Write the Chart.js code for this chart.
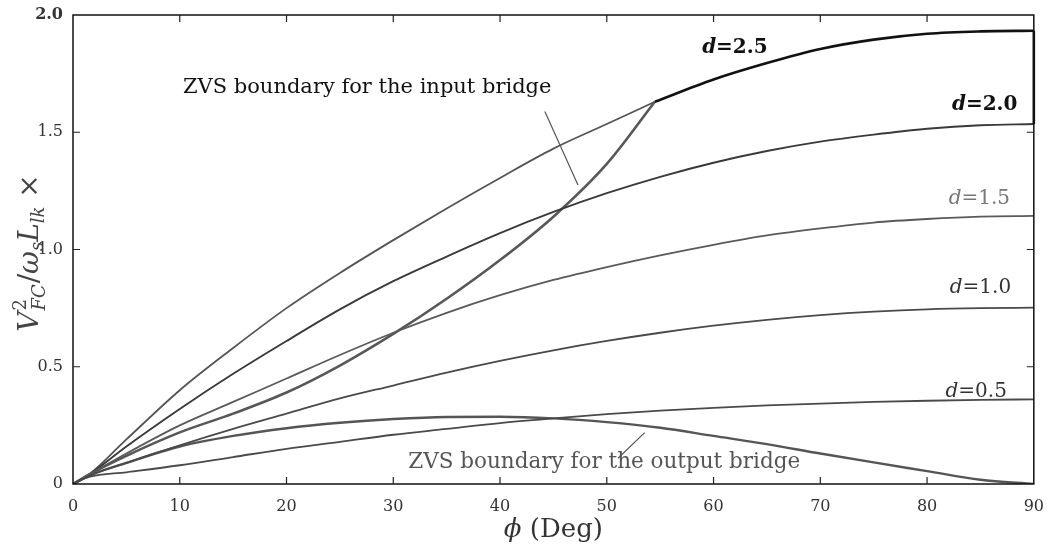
<!DOCTYPE html>
<html>
<head>
<meta charset="utf-8">
<script src="https://cdn.jsdelivr.net/npm/chart.js@4.4.0/dist/chart.umd.min.js"></script>
<style>
  html, body { margin: 0; padding: 0; background: #fff; }
  #wrap { width: 1049px; height: 551px; }
</style>
</head>
<body>
<div id="wrap"><canvas id="chart" width="1049" height="551"></canvas></div>
<script>
// === DATA ===
const phi = [0, 1.5, 5, 10, 15, 20, 25, 30, 35, 40, 45, 50, 55, 60, 65, 70, 75, 80, 85, 90];
const d05 = [0, 0.03, 0.05, 0.08, 0.115, 0.15, 0.18, 0.21, 0.235, 0.26, 0.28, 0.298, 0.313, 0.325, 0.335, 0.343, 0.35, 0.355, 0.359, 0.361];
const d10 = [0, 0.035, 0.09, 0.165, 0.235, 0.30, 0.365, 0.42, 0.475, 0.525, 0.57, 0.61, 0.645, 0.675, 0.70, 0.72, 0.735, 0.745, 0.75, 0.752];
const d15 = [0, 0.04, 0.13, 0.25, 0.35, 0.45, 0.55, 0.645, 0.73, 0.805, 0.87, 0.925, 0.975, 1.02, 1.06, 1.09, 1.115, 1.13, 1.14, 1.143];
const d20 = [0, 0.04, 0.16, 0.32, 0.47, 0.61, 0.745, 0.865, 0.97, 1.07, 1.16, 1.24, 1.31, 1.37, 1.42, 1.46, 1.49, 1.515, 1.53, 1.535];
const zvsOut = [0, 0.035, 0.09, 0.16, 0.205, 0.238, 0.261, 0.277, 0.286, 0.287, 0.28, 0.264, 0.24, 0.205, 0.17, 0.13, 0.092, 0.055, 0.018, 0];

// d=2.5 is split where the input-bridge boundary meets it
const phi25 = [0, 1.5, 5, 10, 15, 20, 25, 30, 35, 40, 45, 50, 54.5, 60, 65, 70, 75, 80, 85, 90];
const d25 = [0, 0.04, 0.19, 0.40, 0.58, 0.75, 0.90, 1.04, 1.175, 1.305, 1.43, 1.535, 1.63, 1.725, 1.795, 1.855, 1.895, 1.92, 1.93, 1.933];
const meetPhi = 54.5;

const phiIn = [0, 1.5, 5, 10, 15, 20, 25, 30, 35, 40, 45, 50, 54.5];
const zvsIn = [0, 0.04, 0.12, 0.22, 0.30, 0.39, 0.505, 0.64, 0.79, 0.955, 1.14, 1.365, 1.63];

const xTicks = [0, 10, 20, 30, 40, 50, 60, 70, 80, 90];
const yTicks = [0, 0.5, 1.0, 1.5, 2.0];

const SERIF = "'DejaVu Serif', 'Liberation Serif', serif";

function pts(xs, ys) {
    return xs.map((p, i) => ({ x: p, y: ys[i] }));
}

function line(data, color, width) {
    return {
        data: data,
        borderColor: color,
        borderWidth: width,
        pointRadius: 0,
        fill: false,
        cubicInterpolationMode: "monotone"
    };
}

const all25 = pts(phi25, d25);

// === DECORATION PLUGIN: frame, inward ticks, labels, axis title ===
const decor = {
    id: "decor",
    afterDraw(chart) {
        const { ctx, chartArea: a, scales: { x, y } } = chart;
        ctx.save();

        // frame
        ctx.strokeStyle = "#111";
        ctx.lineWidth = 1.5;
        ctx.strokeRect(a.left, a.top, a.right - a.left, a.bottom - a.top);

        // heavier right edge between d=2.0 and d=2.5 end points
        ctx.lineWidth = 2.6;
        ctx.beginPath();
        ctx.moveTo(a.right, y.getPixelForValue(d20[d20.length - 1]));
        ctx.lineTo(a.right, y.getPixelForValue(d25[d25.length - 1]));
        ctx.stroke();

        // inward tick marks
        ctx.lineWidth = 1.2;
        ctx.strokeStyle = "#222";
        ctx.beginPath();
        xTicks.slice(1, -1).forEach(v => {
            const px = x.getPixelForValue(v);
            ctx.moveTo(px, a.bottom); ctx.lineTo(px, a.bottom - 7);
            ctx.moveTo(px, a.top); ctx.lineTo(px, a.top + 7);
        });
        yTicks.slice(1, -1).forEach(v => {
            const py = y.getPixelForValue(v);
            ctx.moveTo(a.left, py); ctx.lineTo(a.left + 7, py);
            ctx.moveTo(a.right, py); ctx.lineTo(a.right - 7, py);
        });
        ctx.stroke();

        // curve labels  d=...
        const dLabels = [
            { t: "2.5", px: 62.0, py: 1.86, c: "#111", w: "bold" },
            { t: "2.0", px: 85.4, py: 1.616, c: "#111", w: "bold" },
            { t: "1.5", px: 84.9, py: 1.215, c: "#777", w: "normal" },
            { t: "1.0", px: 85.0, py: 0.836, c: "#333", w: "normal" },
            { t: "0.5", px: 84.6, py: 0.392, c: "#333", w: "normal" }
        ];
        ctx.textBaseline = "middle";
        dLabels.forEach(l => {
            ctx.fillStyle = l.c;
            ctx.font = "italic " + l.w + " 20px " + SERIF;
            const wd = ctx.measureText("d").width;
            ctx.font = l.w + " 20px " + SERIF;
            const wr = ctx.measureText("=" + l.t).width;
            let sx = x.getPixelForValue(l.px) - (wd + wr) / 2;
            const sy = y.getPixelForValue(l.py);
            ctx.font = "italic " + l.w + " 20px " + SERIF;
            ctx.textAlign = "left";
            ctx.fillText("d", sx, sy);
            ctx.font = l.w + " 20px " + SERIF;
            ctx.fillText("=" + l.t, sx + wd, sy);
        });

        // ZVS annotations and leader lines
        ctx.font = "21px " + SERIF;
        ctx.fillStyle = "#111";
        ctx.fillText("ZVS boundary for the input bridge", x.getPixelForValue(10.3), y.getPixelForValue(1.689));
        ctx.font = "21.5px " + SERIF;
        ctx.fillStyle = "#555";
        ctx.fillText("ZVS boundary for the output bridge", x.getPixelForValue(31.4), y.getPixelForValue(0.09));

        ctx.lineWidth = 1.2;
        ctx.strokeStyle = "#555";
        ctx.beginPath();
        ctx.moveTo(x.getPixelForValue(44.2), y.getPixelForValue(1.588));
        ctx.lineTo(x.getPixelForValue(47.3), y.getPixelForValue(1.275));
        ctx.moveTo(x.getPixelForValue(51.05), y.getPixelForValue(0.11));
        ctx.lineTo(x.getPixelForValue(53.55), y.getPixelForValue(0.219));
        ctx.stroke();

        // x title: phi (Deg)
        ctx.fillStyle = "#333";
        ctx.textBaseline = "alphabetic";
        ctx.font = "italic 26px " + SERIF;
        const wPhi = ctx.measureText("ϕ").width;
        ctx.font = "26px " + SERIF;
        const wRest = ctx.measureText(" (Deg)").width;
        const cx = (a.left + a.right) / 2;
        const tx = cx - (wPhi + wRest) / 2;
        ctx.font = "italic 26px " + SERIF;
        ctx.fillText("ϕ", tx, 537);
        ctx.font = "26px " + SERIF;
        ctx.fillText(" (Deg)", tx + wPhi, 537);

        // y title: V_FC^2 / w_s L_lk  x   (rotated)
        const big = 28, small = 18;
        const parts = [
            { t: "V", s: big, it: true, dy: 0 },
            { stack: true },
            { t: "/", s: big, it: false, dy: 0 },
            { t: "ω", s: big, it: true, dy: 0 },
            { t: "s", s: small, it: true, dy: 5 },
            { t: "L", s: big, it: true, dy: 0 },
            { t: "lk", s: small, it: true, dy: 6 },
            { t: " ×", s: big, it: false, dy: 0 }
        ];
        const fontOf = p => (p.it ? "italic " : "") + p.s + "px " + SERIF;
        let total = 0;
        parts.forEach(p => {
            if (p.stack) {
                ctx.font = small + "px " + SERIF;
                const w1 = ctx.measureText("2").width;
                ctx.font = "italic " + small + "px " + SERIF;
                const w2 = ctx.measureText("FC").width;
                p.w = Math.max(w1, w2) + 2;
            } else {
                ctx.font = fontOf(p);
                p.w = ctx.measureText(p.t).width;
            }
            total += p.w;
        });
        ctx.save();
        ctx.translate(38, 253);
        ctx.rotate(-Math.PI / 2);
        ctx.fillStyle = "#444";
        let pos = -total / 2;
        parts.forEach(p => {
            if (p.stack) {
                ctx.font = small + "px " + SERIF;
                ctx.fillText("2", pos + 1, -12);
                ctx.font = "italic " + small + "px " + SERIF;
                ctx.fillText("FC", pos + 1, 7);
            } else {
                ctx.font = fontOf(p);
                ctx.fillText(p.t, pos, p.dy);
            }
            pos += p.w;
        });
        ctx.restore();

        ctx.restore();
    }
};

new Chart(document.getElementById("chart"), {
    type: "line",
    data: {
        datasets: [
            line(pts(phi, d05), "#4a4a4a", 1.8),
            line(pts(phi, d10), "#4a4a4a", 1.8),
            line(pts(phi, d15), "#5a5a5a", 1.8),
            line(pts(phi, d20), "#3a3a3a", 1.9),
            line(all25.filter(p => p.x <= meetPhi), "#555", 1.8),
            line(all25.filter(p => p.x >= meetPhi), "#111", 2.6),
            line(pts(phiIn, zvsIn), "#585858", 2.6),
            line(pts(phi, zvsOut), "#555", 2.4)
        ]
    },
    options: {
        responsive: false,
        animation: false,
        layout: { padding: { top: 15, right: 15, left: 0, bottom: 0 } },
        plugins: { legend: { display: false }, tooltip: { enabled: false } },
        scales: {
            x: {
                type: "linear",
                min: 0,
                max: 90,
                grid: { display: false },
                border: { display: false },
                afterFit: s => { s.height = 67; },
                afterBuildTicks: s => { s.ticks = xTicks.map(v => ({ value: v })); },
                ticks: {
                    color: "#333",
                    padding: 5,
                    maxRotation: 0,
                    font: { family: SERIF, size: 16 }
                }
            },
            y: {
                type: "linear",
                min: 0,
                max: 2,
                grid: { display: false },
                border: { display: false },
                afterFit: s => { s.width = 73; },
                afterBuildTicks: s => { s.ticks = yTicks.map(v => ({ value: v })); },
                ticks: {
                    color: "#333",
                    padding: 2,
                    callback: v => (v === 0 ? "0" : v.toFixed(1)),
                    font: c => ({ family: SERIF, size: 16, weight: c.tick && c.tick.value === 2 ? "bold" : "normal" })
                }
            }
        }
    },
    plugins: [decor]
});
</script>
</body>
</html>
